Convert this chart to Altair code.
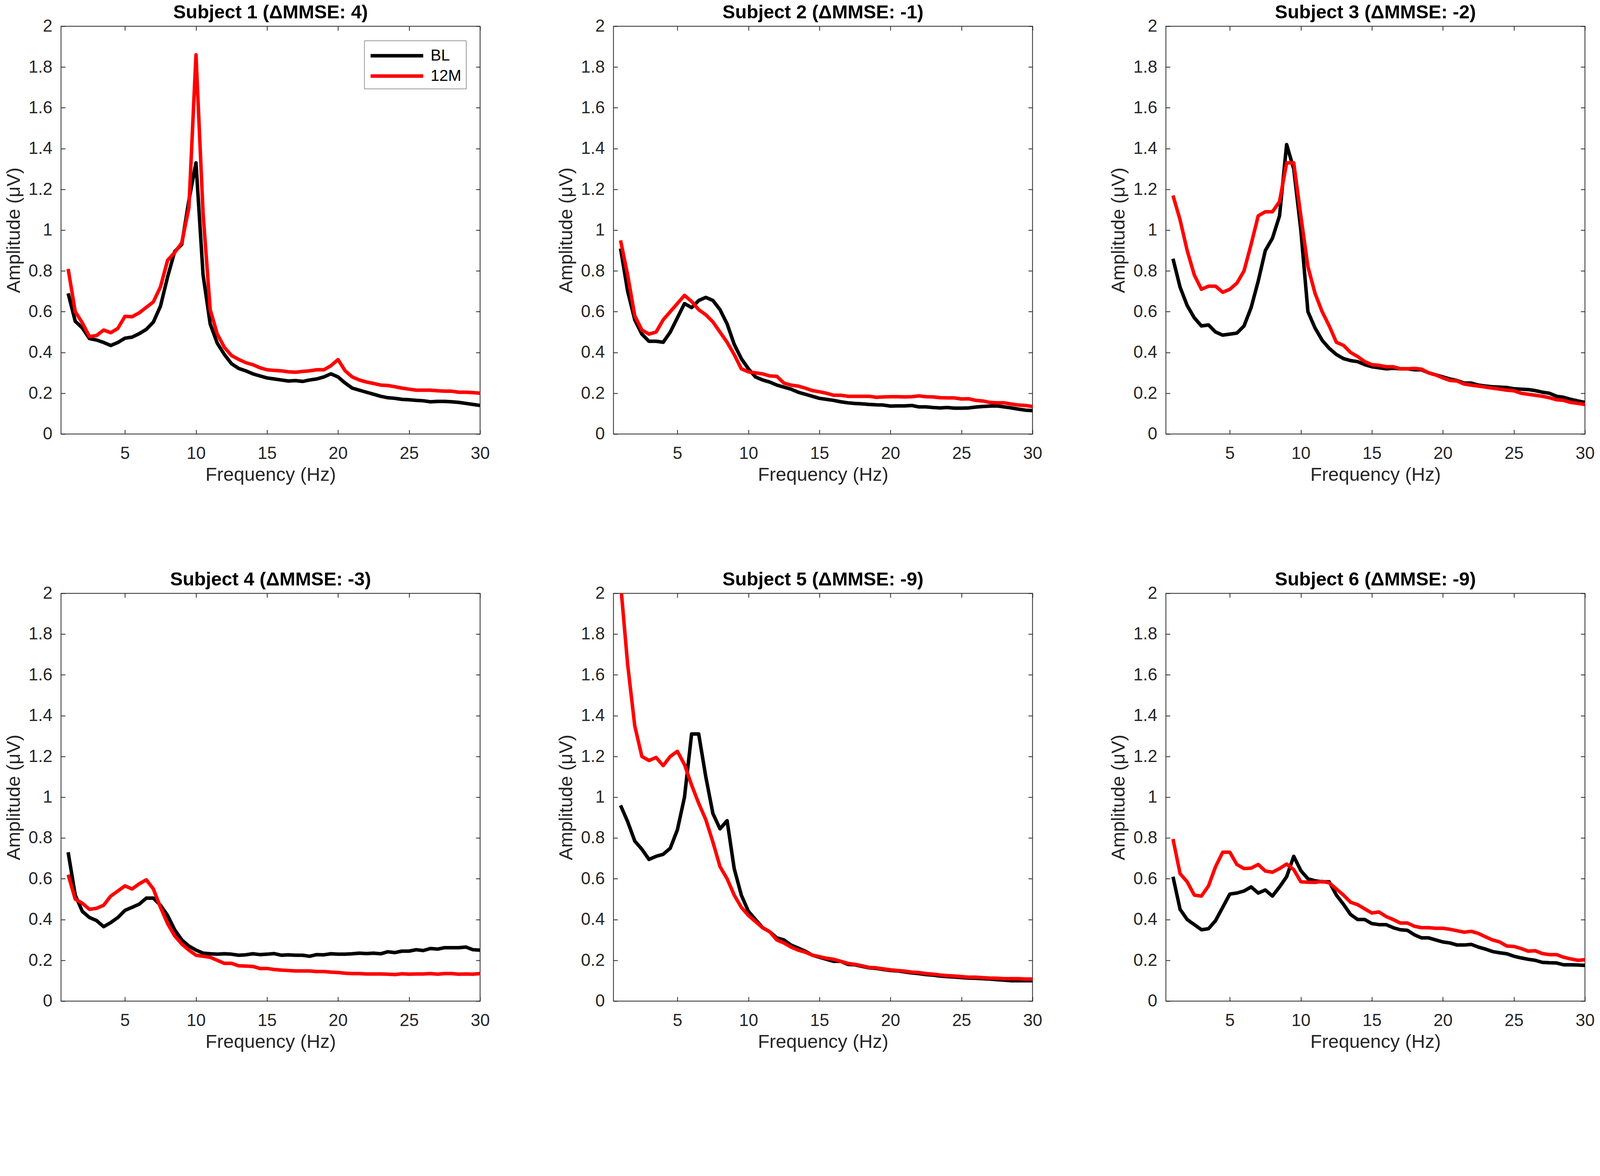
import altair as alt
import pandas as pd

# ---------------- data ----------------
FREQ = [1, 1.5, 2, 2.5, 3, 3.5, 4, 4.5, 5, 5.5,
        6, 6.5, 7, 7.5, 8, 8.5, 9, 9.5, 10, 10.5,
        11, 11.5, 12, 12.5, 13, 13.5, 14, 14.5, 15, 15.5,
        16, 16.5, 17, 17.5, 18, 18.5, 19, 19.5, 20, 20.5,
        21, 21.5, 22, 22.5, 23, 23.5, 24, 24.5, 25, 25.5,
        26, 26.5, 27, 27.5, 28, 28.5, 29, 29.5, 30]

TITLES = ["Subject 1 (ΔMMSE: 4)", "Subject 2 (ΔMMSE: -1)", "Subject 3 (ΔMMSE: -2)",
          "Subject 4 (ΔMMSE: -3)", "Subject 5 (ΔMMSE: -9)", "Subject 6 (ΔMMSE: -9)"]

SERIES = ["BL", "12M"]

S1_BL = [0.69, 0.553, 0.52, 0.468, 0.461, 0.449, 0.434, 0.449, 0.47, 0.475,
         0.492, 0.513, 0.549, 0.627, 0.77, 0.895, 0.93, 1.146, 1.33, 0.78,
         0.54, 0.445, 0.39, 0.345, 0.322, 0.31, 0.295, 0.285, 0.275, 0.27,
         0.265, 0.26, 0.262, 0.258, 0.265, 0.27, 0.28, 0.295, 0.28, 0.25,
         0.225, 0.215, 0.205, 0.195, 0.185, 0.178, 0.175, 0.17, 0.168, 0.165,
         0.163, 0.158, 0.16, 0.16, 0.158, 0.155, 0.15, 0.145, 0.14]
S1_12M = [0.81, 0.60, 0.545, 0.478, 0.483, 0.51, 0.497, 0.518, 0.577, 0.575,
          0.594, 0.621, 0.648, 0.722, 0.852, 0.89, 0.938, 1.11, 1.86, 1.08,
          0.61, 0.49, 0.425, 0.385, 0.366, 0.35, 0.34, 0.325, 0.315, 0.312,
          0.31, 0.305, 0.303, 0.307, 0.31, 0.315, 0.315, 0.335, 0.365, 0.31,
          0.28, 0.265, 0.255, 0.248, 0.24, 0.238, 0.232, 0.225, 0.22, 0.215,
          0.215, 0.215, 0.212, 0.21, 0.21, 0.205, 0.205, 0.203, 0.2]

S2_BL = [0.91, 0.70, 0.56, 0.49, 0.455, 0.455, 0.45, 0.50, 0.57, 0.64,
         0.62, 0.655, 0.67, 0.655, 0.61, 0.54, 0.44, 0.37, 0.32, 0.28,
         0.265, 0.255, 0.24, 0.23, 0.22, 0.205, 0.195, 0.185, 0.175, 0.17,
         0.165, 0.158, 0.153, 0.15, 0.148, 0.145, 0.143, 0.142, 0.137, 0.138,
         0.138, 0.14, 0.133, 0.133, 0.13, 0.128, 0.13, 0.127, 0.127, 0.128,
         0.132, 0.135, 0.137, 0.138, 0.133, 0.128, 0.122, 0.117, 0.115]
S2_12M = [0.95, 0.78, 0.58, 0.51, 0.49, 0.50, 0.56, 0.60, 0.64, 0.68,
          0.65, 0.61, 0.585, 0.55, 0.50, 0.45, 0.39, 0.32, 0.305, 0.30,
          0.295, 0.285, 0.283, 0.25, 0.24, 0.235, 0.225, 0.213, 0.207, 0.20,
          0.19, 0.19, 0.185, 0.185, 0.185, 0.185, 0.18, 0.182, 0.183, 0.183,
          0.182, 0.183, 0.187, 0.183, 0.182, 0.178, 0.177, 0.177, 0.172, 0.173,
          0.165, 0.162, 0.155, 0.153, 0.153, 0.147, 0.142, 0.14, 0.135]

S3_BL = [0.86, 0.72, 0.63, 0.57, 0.53, 0.535, 0.50, 0.485, 0.49, 0.495,
         0.53, 0.62, 0.75, 0.90, 0.96, 1.07, 1.42, 1.30, 1.00, 0.60,
         0.52, 0.46, 0.42, 0.39, 0.37, 0.36, 0.355, 0.34, 0.33, 0.325,
         0.32, 0.322, 0.32, 0.32, 0.315, 0.315, 0.30, 0.29, 0.28, 0.27,
         0.262, 0.25, 0.25, 0.24, 0.235, 0.232, 0.23, 0.228, 0.222, 0.22,
         0.218, 0.213, 0.205, 0.20, 0.185, 0.18, 0.17, 0.162, 0.155]
S3_12M = [1.17, 1.05, 0.90, 0.78, 0.71, 0.725, 0.725, 0.695, 0.71, 0.74,
          0.80, 0.93, 1.07, 1.09, 1.09, 1.14, 1.33, 1.33, 1.07, 0.82,
          0.69, 0.60, 0.53, 0.45, 0.435, 0.40, 0.38, 0.355, 0.34, 0.337,
          0.33, 0.33, 0.32, 0.32, 0.322, 0.318, 0.30, 0.29, 0.275, 0.263,
          0.26, 0.245, 0.24, 0.235, 0.23, 0.225, 0.22, 0.215, 0.212, 0.20,
          0.195, 0.19, 0.185, 0.178, 0.168, 0.165, 0.155, 0.15, 0.145]

S4_BL = [0.73, 0.52, 0.44, 0.41, 0.395, 0.365, 0.385, 0.41, 0.445, 0.46,
         0.475, 0.505, 0.505, 0.47, 0.42, 0.35, 0.30, 0.27, 0.25, 0.235,
         0.232, 0.23, 0.232, 0.23, 0.225, 0.227, 0.232, 0.228, 0.23, 0.233,
         0.225, 0.227, 0.225, 0.225, 0.22, 0.228, 0.227, 0.232, 0.23, 0.23,
         0.232, 0.235, 0.233, 0.235, 0.232, 0.242, 0.238, 0.245, 0.245, 0.252,
         0.248, 0.258, 0.255, 0.262, 0.262, 0.262, 0.265, 0.252, 0.25]
S4_12M = [0.62, 0.50, 0.48, 0.45, 0.455, 0.47, 0.515, 0.54, 0.565, 0.55,
          0.575, 0.595, 0.55, 0.46, 0.38, 0.32, 0.28, 0.25, 0.225, 0.22,
          0.215, 0.20, 0.185, 0.185, 0.173, 0.172, 0.17, 0.16, 0.16, 0.155,
          0.152, 0.15, 0.148, 0.148, 0.148, 0.145, 0.145, 0.142, 0.14, 0.137,
          0.135, 0.135, 0.133, 0.133, 0.133, 0.132, 0.13, 0.134, 0.132, 0.133,
          0.133, 0.135, 0.132, 0.135, 0.135, 0.132, 0.133, 0.132, 0.135]

S5_BL = [0.96, 0.88, 0.785, 0.745, 0.695, 0.71, 0.72, 0.75, 0.84, 1.00,
         1.31, 1.31, 1.10, 0.92, 0.845, 0.885, 0.65, 0.52, 0.44, 0.40,
         0.36, 0.34, 0.31, 0.30, 0.275, 0.26, 0.245, 0.225, 0.215, 0.205,
         0.195, 0.195, 0.18, 0.178, 0.17, 0.163, 0.16, 0.155, 0.15, 0.148,
         0.143, 0.138, 0.135, 0.13, 0.127, 0.123, 0.12, 0.118, 0.115, 0.113,
         0.112, 0.11, 0.108, 0.105, 0.103, 0.10, 0.10, 0.10, 0.10]
S5_12M = [2.05, 1.65, 1.35, 1.20, 1.18, 1.195, 1.155, 1.20, 1.225, 1.16,
          1.06, 0.97, 0.89, 0.78, 0.66, 0.60, 0.52, 0.46, 0.42, 0.39,
          0.36, 0.34, 0.30, 0.285, 0.265, 0.25, 0.24, 0.225, 0.218, 0.21,
          0.205, 0.195, 0.185, 0.18, 0.173, 0.165, 0.163, 0.158, 0.153, 0.15,
          0.147, 0.142, 0.14, 0.135, 0.132, 0.128, 0.125, 0.123, 0.12, 0.117,
          0.117, 0.115, 0.113, 0.112, 0.11, 0.11, 0.11, 0.108, 0.108]

S6_BL = [0.61, 0.45, 0.40, 0.375, 0.35, 0.355, 0.395, 0.46, 0.525, 0.53,
         0.54, 0.56, 0.53, 0.545, 0.515, 0.56, 0.61, 0.71, 0.64, 0.60,
         0.59, 0.585, 0.585, 0.52, 0.475, 0.425, 0.40, 0.40, 0.38, 0.375,
         0.375, 0.36, 0.35, 0.347, 0.325, 0.31, 0.31, 0.30, 0.29, 0.285,
         0.275, 0.275, 0.278, 0.265, 0.255, 0.243, 0.237, 0.232, 0.22, 0.212,
         0.205, 0.20, 0.19, 0.188, 0.187, 0.178, 0.178, 0.177, 0.175]
S6_12M = [0.795, 0.625, 0.585, 0.52, 0.515, 0.565, 0.66, 0.73, 0.73, 0.67,
          0.65, 0.652, 0.67, 0.638, 0.632, 0.65, 0.672, 0.645, 0.585, 0.583,
          0.582, 0.587, 0.58, 0.55, 0.52, 0.485, 0.473, 0.452, 0.432, 0.437,
          0.415, 0.40, 0.383, 0.383, 0.367, 0.36, 0.36, 0.357, 0.357, 0.352,
          0.345, 0.338, 0.342, 0.332, 0.315, 0.30, 0.29, 0.27, 0.268, 0.258,
          0.245, 0.247, 0.233, 0.228, 0.228, 0.215, 0.207, 0.20, 0.203]

BL_ALL = [S1_BL, S2_BL, S3_BL, S4_BL, S5_BL, S6_BL]
M12_ALL = [S1_12M, S2_12M, S3_12M, S4_12M, S5_12M, S6_12M]

XTICKS = [5, 10, 15, 20, 25, 30]
YTICKS = [0, 0.2, 0.4, 0.6, 0.8, 1, 1.2, 1.4, 1.6, 1.8, 2]

for a in BL_ALL + M12_ALL:
    assert len(a) == len(FREQ), len(a)

# ---------------- style ----------------
W, H = 1194, 1162
TICK = 12
AX = "#262626"
FONT = "Liberation Sans"
LW = 10

color_scale = alt.Scale(domain=SERIES, range=["#000000", "#ff0000"])
xs = alt.Scale(domain=[0.5, 30], nice=False, zero=False)
ys = alt.Scale(domain=[0, 2], nice=False, zero=True)


def tick_axis(orient, offset, values):
    return alt.Axis(orient=orient, offset=offset, values=values, labels=False,
                    title=None, ticks=True, tickSize=TICK, domain=False, grid=False)


def make_panel(k):
    n = len(FREQ)
    df = pd.DataFrame({
        "freq": FREQ + FREQ,
        "amp": BL_ALL[k] + M12_ALL[k],
        "series": [SERIES[0]] * n + [SERIES[1]] * n,
    })
    base = alt.Chart(df)
    line_kw = dict(strokeWidth=LW, clip=True, strokeJoin="round", strokeCap="butt")
    if k == 0:
        legend = alt.Legend(title=None, orient="none", legendX=864, legendY=41,
                            direction="vertical", symbolType="M-1,0H5",
                            symbolSize=2500, symbolStrokeWidth=LW,
                            labelFont=FONT, labelFontSize=45, labelColor="black",
                            labelOffset=116, padding=13, rowPadding=5,
                            strokeColor=AX, fillColor="white")
    else:
        legend = None

    # black series, carrying the labelled axes
    bl = base.transform_filter(alt.datum.series == SERIES[0]).mark_line(**line_kw).encode(
        x=alt.X("freq:Q", scale=xs,
                axis=alt.Axis(orient="bottom", values=XTICKS, title="Frequency (Hz)",
                              ticks=False, domain=False, grid=False, labelPadding=31,
                              titlePadding=10, labelFlush=False, labelOverlap=False)),
        y=alt.Y("amp:Q", scale=ys,
                axis=alt.Axis(orient="left", values=YTICKS, format="~g",
                              title="Amplitude (μV)", ticks=False, domain=False,
                              grid=False, labelPadding=25, titlePadding=14,
                              labelOverlap=False)),
        color=alt.Color("series:N", scale=color_scale, legend=legend),
    )
    # red series, carrying inward ticks on the bottom and left edges
    red = base.transform_filter(alt.datum.series == SERIES[1]).mark_line(**line_kw).encode(
        x=alt.X("freq:Q", scale=xs, axis=tick_axis("bottom", -TICK, XTICKS)),
        y=alt.Y("amp:Q", scale=ys, axis=tick_axis("left", -TICK, YTICKS)),
        color=alt.Color("series:N", scale=color_scale, legend=legend),
    )
    # invisible copy, carrying inward ticks on the top and right edges
    tk = base.mark_line(strokeOpacity=0, clip=True).encode(
        x=alt.X("freq:Q", scale=xs, axis=tick_axis("bottom", -H, XTICKS)),
        y=alt.Y("amp:Q", scale=ys, axis=tick_axis("left", -W, YTICKS)),
        detail="series:N",
    )
    return alt.layer(bl, red, tk).resolve_axis(x="independent", y="independent").properties(
        width=W, height=H,
        title=alt.TitleParams(TITLES[k], anchor="middle", offset=-13, font=FONT,
                              fontSize=54, fontWeight="bold", color="black"),
    )


panels = [make_panel(k) for k in range(6)]

chart = alt.concat(*panels, columns=3, spacing={"row": 454, "column": 380},
                   bounds="flush").resolve_scale(color="independent").properties(
    padding={"left": 2, "top": -161, "right": 5, "bottom": 0},
    background="white",
).configure_view(
    stroke=AX, strokeWidth=2.2
).configure_axis(
    labelFont=FONT, labelFontSize=49, labelColor=AX,
    titleFont=FONT, titleFontSize=54, titleFontWeight="normal", titleColor=AX,
    tickColor=AX, tickWidth=2.2, tickSize=TICK,
).configure_title(font=FONT)

chart.save("out.html", embed_options={"renderer": "svg", "actions": False})
